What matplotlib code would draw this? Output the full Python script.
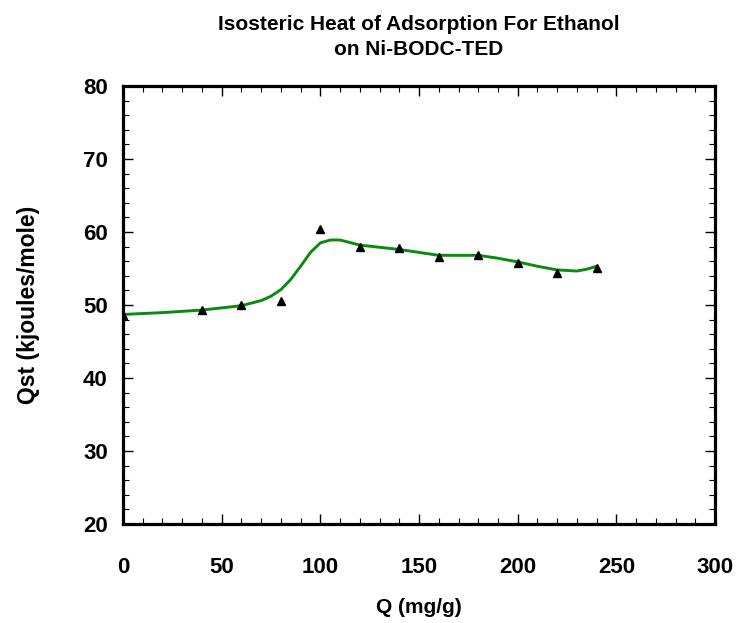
import numpy as np
import matplotlib
matplotlib.use("Agg")
import matplotlib.pyplot as plt
from matplotlib.ticker import MultipleLocator

plt.rcParams['font.family'] = ['Liberation Sans', 'DejaVu Sans']

# measured points
q_pts = [0, 40, 60, 80, 100, 120, 140, 160, 180, 200, 220, 240]
qst_pts = [48.6, 49.3, 50.0, 50.55, 60.4, 57.95, 57.8, 56.6, 56.9, 55.8, 54.4, 55.1]

# smoothed fit line
q_fit = [0, 20, 40, 60, 70, 75, 80, 85, 90, 95, 100, 105, 110, 120, 130, 140, 150,
         160, 170, 180, 190, 200, 210, 220, 230, 235, 240]
qst_fit = [48.7, 48.95, 49.3, 49.9, 50.6, 51.2, 52.1, 53.5, 55.3, 57.2, 58.5, 58.9,
           58.9, 58.2, 57.9, 57.6, 57.2, 56.8, 56.8, 56.8, 56.4, 55.9, 55.3, 54.8,
           54.65, 54.9, 55.3]

fig = plt.figure(figsize=(7.41, 6.23), dpi=100)
ax = fig.add_axes([0.166, 0.159, 0.799, 0.703])

ax.plot(q_fit, qst_fit, color='#0b8a10', linewidth=2.1, zorder=2)
ax.plot(q_pts, qst_pts, linestyle='none', marker='^', color='black', markersize=6, zorder=3)

ax.set_xlim(0, 300)
ax.set_ylim(20, 80)
ax.xaxis.set_major_locator(MultipleLocator(50))
ax.xaxis.set_minor_locator(MultipleLocator(10))
ax.yaxis.set_major_locator(MultipleLocator(10))
ax.yaxis.set_minor_locator(MultipleLocator(2))

for s in ax.spines.values():
    s.set_linewidth(2.3)

ax.tick_params(axis='both', which='both', direction='in', top=True, right=True)
ax.tick_params(axis='both', which='major', length=7, width=1, labelsize=16)
ax.tick_params(axis='both', which='minor', length=4, width=0.8)
ax.tick_params(axis='x', which='major', pad=24)
ax.tick_params(axis='y', which='major', pad=11)
for lbl in ax.get_xticklabels() + ax.get_yticklabels():
    lbl.set_fontweight('bold')

ax.set_xlabel('Q (mg/g)', fontsize=15, fontweight='bold', labelpad=14)
ax.set_ylabel('Qst (kjoules/mole)', fontsize=16.5, fontweight='bold', labelpad=31)
ax.set_title('Isosteric Heat of Adsorption For Ethanol\non Ni-BODC-TED',
             fontsize=15, fontweight='bold', pad=22, linespacing=1.45)

fig.savefig('out.png', dpi=100)
